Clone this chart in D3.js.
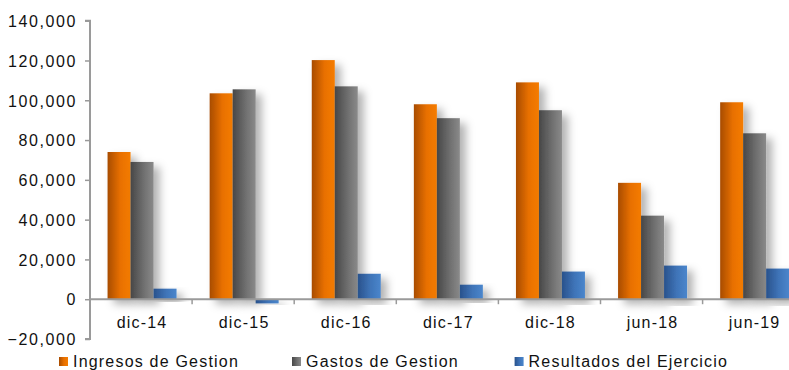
<!DOCTYPE html>
<html><head><meta charset="utf-8">
<script src="https://cdn.jsdelivr.net/npm/d3@7"></script>
<style>body{margin:0;background:#fff}svg{display:block}</style>
</head><body>
<svg id="chart" width="789" height="370"></svg>
<script>
const categories = ["dic-14","dic-15","dic-16","dic-17","dic-18","jun-18","jun-19"];
const seriesNames = ["Ingresos de Gestion","Gastos de Gestion","Resultados del Ejercicio"];
const ingresos = [74000,103500,120200,98000,109000,58500,99000];
const gastos = [69000,105500,107000,91000,95000,42000,83400];
const resultados = [5300,-2100,12800,7300,13900,16900,15400];
const yTicks = [-20000,0,20000,40000,60000,80000,100000,120000,140000];
const seriesValues = [ingresos, gastos, resultados];
const grads = [["#a84c00","#e87000","#f57c00"],["#474747","#6e6e6e","#8a8a8a"],["#29528c","#3f74b8","#4a86cc"]];

const svg = d3.select("#chart");
const defs = svg.append("defs");
grads.forEach((g,i)=>{
  const lg = defs.append("linearGradient").attr("id","g"+i).attr("x1","0").attr("x2","1").attr("y1","0").attr("y2","0");
  lg.append("stop").attr("offset","0%").attr("stop-color",g[0]);
  lg.append("stop").attr("offset","55%").attr("stop-color",g[1]);
  lg.append("stop").attr("offset","100%").attr("stop-color",g[2]);
});
const f = defs.append("filter").attr("id","sh").attr("x","-30%").attr("y","-10%").attr("width","200%").attr("height","130%");
f.append("feDropShadow").attr("dx",6).attr("dy",5).attr("stdDeviation",4).attr("flood-color","#000").attr("flood-opacity",0.3);

const x0 = d3.scaleBand().domain(categories).range([90, 804.7]).paddingInner(0).paddingOuter(0);
const x1 = d3.scaleBand().domain(d3.range(3)).range([0, x0.bandwidth()]).paddingInner(0).paddingOuter(0.72);
const y = d3.scaleLinear().domain([-20000,140000]).range([339, 20.7]);

const font = "'Liberation Sans', Arial, sans-serif";

// bars
seriesValues.forEach((vals, si)=>{
  svg.append("g").selectAll("rect").data(categories).join("rect")
    .attr("x", c => x0(c) + x1(si) + 1)
    .attr("width", x1.bandwidth())
    .attr("y", (c,i) => y(Math.max(0, vals[i])))
    .attr("height", (c,i) => Math.abs(y(vals[i]) - y(0)))
    .attr("fill", "url(#g"+si+")")
    .attr("filter","url(#sh)");
});

// y axis
const yAxis = svg.append("g").attr("transform","translate(90,0)")
  .call(d3.axisLeft(y).tickValues(yTicks).tickFormat(d3.format(",")).tickSize(5).tickPadding(8));
yAxis.select(".domain").attr("stroke","#9a9a9a").attr("stroke-width",2).attr("d","M-5,"+y(140000)+"H0V"+y(-20000)+"H-5");
yAxis.selectAll(".tick line").attr("stroke","#9a9a9a").attr("stroke-width",1.5);
yAxis.selectAll("text").attr("font-family",font).attr("font-size",16).attr("fill","#111").attr("letter-spacing","1.6px").attr("dy","0.36em");

// x axis at zero
const xg = svg.append("g").attr("transform","translate(0,"+y(0)+")");
xg.append("line").attr("x1",90).attr("x2",804.7).attr("y1",0).attr("y2",0).attr("stroke","#9a9a9a").attr("stroke-width",2);
xg.selectAll("line.t").data(categories.slice(1)).join("line").attr("class","t")
  .attr("x1",c=>x0(c)).attr("x2",c=>x0(c)).attr("y1",0).attr("y2",5).attr("stroke","#9a9a9a").attr("stroke-width",1.5);
xg.selectAll("text").data(categories).join("text")
  .attr("x",c=>x0(c)+x0.bandwidth()/2+1).attr("y",29)
  .attr("text-anchor","middle").attr("font-family",font).attr("font-size",16).attr("fill","#111").attr("letter-spacing","1.2px")
  .text(c=>c);

// legend
const legX = [59, 292, 514.6];
const lg = svg.append("g");
seriesNames.forEach((n,i)=>{
  lg.append("rect").attr("x",legX[i]).attr("y",357).attr("width",9).attr("height",9).attr("fill","url(#g"+i+")");
  lg.append("text").attr("x",legX[i]+14).attr("y",367).attr("font-family",font).attr("font-size",16).attr("fill","#111").attr("letter-spacing","1.2px").text(n);
});
</script>
</body></html>
